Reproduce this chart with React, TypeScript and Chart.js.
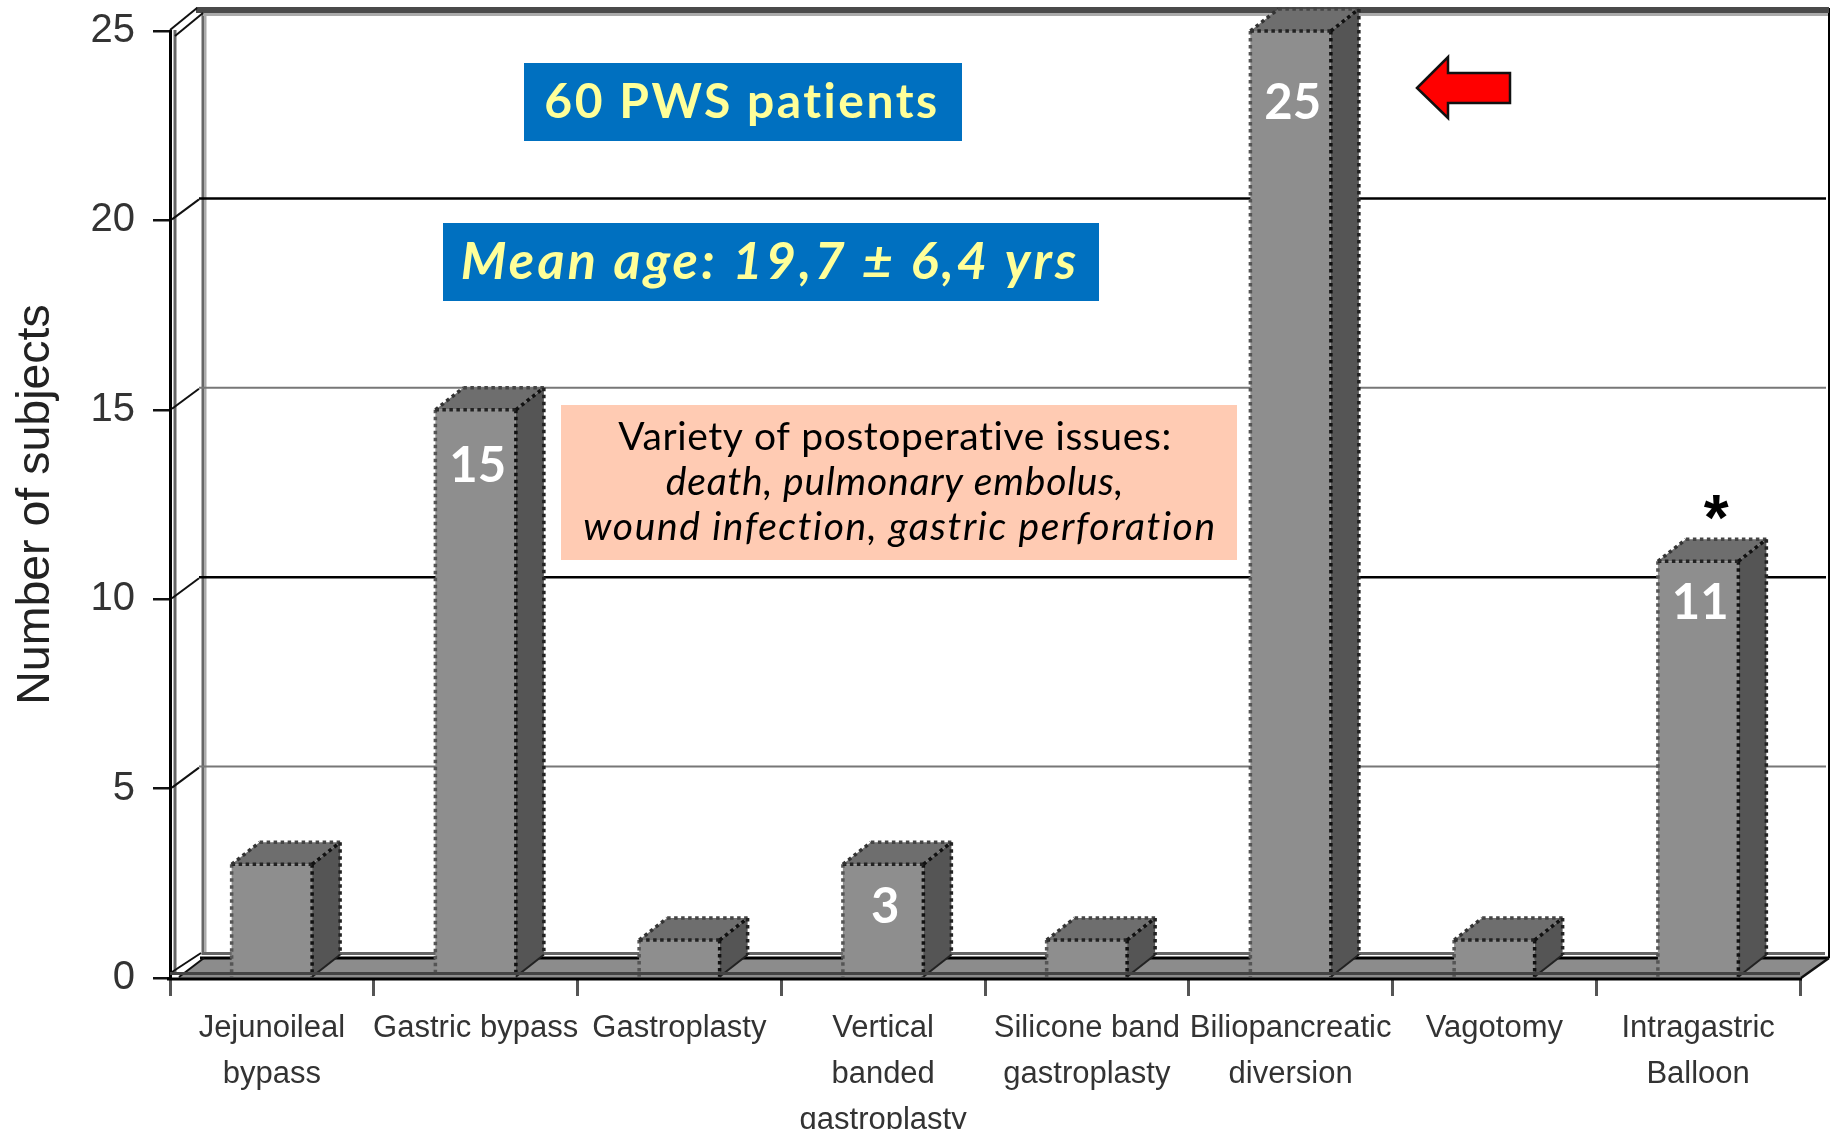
import React, { useEffect, useRef } from "react";
import { Chart, registerables } from "chart.js";

Chart.register(...registerables);

const categories = [
  ["Jejunoileal", "bypass"],
  "Gastric bypass",
  "Gastroplasty",
  ["Vertical", "banded", "gastroplasty"],
  ["Silicone band", "gastroplasty"],
  ["Biliopancreatic", "diversion"],
  "Vagotomy",
  ["Intragastric", "Balloon"],
];
const subjects = [3, 15, 1, 3, 1, 25, 1, 11];
const barLabels = ["", "15", "", "3", "", "25", "", "11"];
const barLabelLevels = [0, 13.5, 0, 1.88, 0, 23.1, 0, 9.9];
const yTitle = "Number of subjects";
const noteLines = ["Variety of postoperative issues:", "death, pulmonary embolus,", "wound infection, gastric perforation"];

const DX = 28;
const DY = -22;
const WALL_DX = 33;
const WALL_DY = -22;

const COMIC = '"Lato", "Open Sans", sans-serif';

function dotted(ctx: any, x1: number, y1: number, x2: number, y2: number, color: string, width = 3.5) {
  ctx.save();
  ctx.strokeStyle = color;
  ctx.lineWidth = width;
  ctx.setLineDash([3.5, 3.5]);
  ctx.beginPath();
  ctx.moveTo(x1, y1);
  ctx.lineTo(x2, y2);
  ctx.stroke();
  ctx.restore();
}
function line(ctx: any, x1: number, y1: number, x2: number, y2: number, color: string, width = 2) {
  ctx.strokeStyle = color;
  ctx.lineWidth = width;
  ctx.beginPath();
  ctx.moveTo(x1, y1);
  ctx.lineTo(x2, y2);
  ctx.stroke();
}
function poly(ctx: any, pts: number[][], fill: string) {
  ctx.fillStyle = fill;
  ctx.beginPath();
  pts.forEach((p, i) => (i ? ctx.lineTo(p[0], p[1]) : ctx.moveTo(p[0], p[1])));
  ctx.closePath();
  ctx.fill();
}
function label(ctx: any, font: string, color: string, text: string, cx: number, baseline: number, spacing: string) {
  ctx.save();
  ctx.font = font;
  ctx.fillStyle = color;
  ctx.textAlign = "center";
  ctx.textBaseline = "alphabetic";
  ctx.letterSpacing = spacing;
  ctx.fillText(text, cx, baseline);
  ctx.restore();
}

const scene = {
  id: "scene",
  beforeDatasetsDraw(chart: any) {
    const { ctx, chartArea: a, scales } = chart;
    const y = scales.y;
    const wallX = a.left + WALL_DX;
    const rightX = a.right + 29;
    ctx.save();
    // back wall edges
    line(ctx, wallX, 12, wallX, 955, "#666", 3);
    line(ctx, wallX + 2.5, 16, wallX + 2.5, 952, "#aaa", 2);
    line(ctx, a.left + 5, 30, a.left + 5, 975, "#666", 3);
    line(ctx, rightX, 8, rightX, 958, "#000", 2);
    // grid on the back wall
    [5, 10, 15, 20].forEach((v) => {
      const py = y.getPixelForValue(v);
      const strong = v % 10 === 0;
      line(ctx, a.left + 2, py - 1, wallX - 4, py + WALL_DY + 1, "#111", 2);
      line(ctx, wallX - 4, py + WALL_DY, rightX - 3, py + WALL_DY, strong ? "#000" : "#777", strong ? 2.5 : 2);
    });
    // top band
    const topY = y.getPixelForValue(25);
    ctx.fillStyle = "#4a4a4a";
    ctx.fillRect(a.left + 26, 7, rightX - a.left - 26, 6);
    ctx.fillStyle = "#aaa";
    ctx.fillRect(wallX, 13, rightX - wallX - 1, 3);
    line(ctx, a.left, topY - 1, a.left + 27, 8, "#111", 2);
    line(ctx, a.left + 5, topY + 5, a.left + 33, 13, "#111", 2);
    // floor
    ctx.fillStyle = "#666";
    ctx.fillRect(wallX, 952, rightX - wallX - 4, 3);
    poly(ctx, [[a.left + 8, 978], [a.right, 978], [rightX, 958], [wallX, 958]], "#8c8c8c");
    line(ctx, wallX - 3, 958, rightX, 958, "#000", 3);
    line(ctx, a.right + 1, 978, rightX, 958, "#111", 2.5);
    line(ctx, a.left + 2, 972, wallX - 2, 953, "#111", 2);
    line(ctx, a.left + 9, 977, wallX + 1, 958, "#111", 2);
    // depth faces of the bars
    chart.getDatasetMeta(0).data.forEach((bar: any) => {
      const l = bar.x - bar.width / 2;
      const r = bar.x + bar.width / 2;
      poly(ctx, [[l, bar.y], [r, bar.y], [r + DX, bar.y + DY], [l + DX, bar.y + DY]], "#6e6e6e");
      poly(ctx, [[r, bar.y], [r + DX, bar.y + DY], [r + DX, bar.base + DY], [r, bar.base]], "#555555");
    });
    ctx.restore();
  },
  afterDatasetsDraw(chart: any) {
    const { ctx, chartArea: a, scales } = chart;
    ctx.save();
    // bar outlines
    chart.getDatasetMeta(0).data.forEach((bar: any) => {
      const l = bar.x - bar.width / 2;
      const r = bar.x + bar.width / 2;
      dotted(ctx, l, bar.y, l, bar.base, "#555");
      dotted(ctx, r, bar.y, r, bar.base, "#111");
      dotted(ctx, l, bar.y, r, bar.y, "#222");
      dotted(ctx, r, bar.y, r + DX, bar.y + DY, "#111");
      dotted(ctx, l, bar.y, l + DX, bar.y + DY, "#333");
      dotted(ctx, l + DX, bar.y + DY, r + DX, bar.y + DY, "#444");
      dotted(ctx, r + DX, bar.y + DY, r + DX, bar.base + DY, "#222");
      line(ctx, r, bar.base, r + DX, bar.base + DY, "#222", 2);
    });
    // front floor edge and axis
    line(ctx, a.left, 973.5, a.right, 973.5, "#444", 3);
    line(ctx, a.left - 3, 979, a.right + 2, 979, "#000", 3);
    // bar value labels
    ctx.font = `bold 49px ${COMIC}`;
    ctx.fillStyle = "#fff";
    ctx.textAlign = "center";
    ctx.textBaseline = "middle";
    const meta = chart.getDatasetMeta(0).data;
    barLabels.forEach((t, i) => {
      if (t) ctx.fillText(t, meta[i].x + 2, scales.y.getPixelForValue(barLabelLevels[i]));
    });
    // asterisk over the last bar
    ctx.font = 'bold 64px "Liberation Sans"';
    ctx.fillStyle = "#000";
    ctx.textBaseline = "alphabetic";
    ctx.fillText("*", meta[7].x + 18, 540);
    // annotation boxes
    ctx.fillStyle = "#0070c0";
    ctx.fillRect(524, 63, 438, 78);
    label(ctx, `bold 48px ${COMIC}`, "#ffff99", "60 PWS patients", 742, 118, "2.5px");
    ctx.fillStyle = "#0070c0";
    ctx.fillRect(443, 223, 656, 78);
    label(ctx, `italic bold 52px ${COMIC}`, "#ffff99", "Mean age: 19,7 ± 6,4 yrs", 770, 279, "3.2px");
    ctx.fillStyle = "#ffcbb3";
    ctx.fillRect(561, 405, 676, 155);
    label(ctx, `39px ${COMIC}`, "#000", noteLines[0], 895, 450, "0.6px");
    label(ctx, `italic 39px ${COMIC}`, "#000", noteLines[1], 895, 495, "0.8px");
    label(ctx, `italic 39px ${COMIC}`, "#000", noteLines[2], 900, 540, "1.6px");
    // arrow
    ctx.fillStyle = "#ff0000";
    ctx.strokeStyle = "#111";
    ctx.lineWidth = 2.5;
    ctx.beginPath();
    [[1417, 88], [1448, 57], [1448, 73], [1510, 73], [1510, 103], [1448, 103], [1448, 118]].forEach((p, i) =>
      i ? ctx.lineTo(p[0], p[1]) : ctx.moveTo(p[0], p[1])
    );
    ctx.closePath();
    ctx.fill();
    ctx.stroke();
    ctx.restore();
  },
};

export default function App() {
  const ref = useRef<HTMLCanvasElement>(null);
  useEffect(() => {
    const chart = new Chart(ref.current!, {
      type: "bar",
      data: {
        labels: categories,
        datasets: [
          {
            data: subjects,
            backgroundColor: "#8e8e8e",
            borderWidth: 0,
            barPercentage: 0.395,
            categoryPercentage: 1,
          },
        ],
      },
      options: {
        responsive: false,
        animation: false,
        layout: { padding: { top: 31, right: 30, left: 0, bottom: 0 } },
        plugins: { legend: { display: false }, tooltip: { enabled: false } },
        scales: {
          x: {
            afterFit: (s: any) => {
              s.height = 151;
              s.paddingLeft = 0;
              s.paddingRight = 0;
            },
            border: { display: false },
            grid: { drawOnChartArea: false, drawTicks: true, tickLength: 18, color: "#555", lineWidth: 3, offset: true },
            ticks: {
              autoSkip: false,
              maxRotation: 0,
              minRotation: 0,
              padding: 10,
              color: "#333",
              font: { family: '"Liberation Sans"', size: 31, lineHeight: 1.48 },
            },
          },
          y: {
            min: 0,
            max: 25,
            afterFit: (s: any) => {
              s.width = 170;
              s.paddingTop = 0;
              s.paddingBottom = 0;
            },
            border: { display: true, color: "#000", width: 3 },
            grid: { drawOnChartArea: false, drawTicks: true, tickLength: 17, color: "#111", lineWidth: 2.5 },
            ticks: {
              stepSize: 5,
              padding: 18,
              color: "#333",
              font: { family: '"Liberation Sans"', size: 40 },
            },
            title: {
              display: true,
              text: yTitle,
              color: "#222",
              padding: { top: 8, bottom: 0 },
              font: { family: '"Liberation Sans"', size: 46.5 },
            },
          },
        },
      },
      plugins: [scene],
    } as any);
    return () => chart.destroy();
  }, []);
  return (
    <div style={{ position: "fixed", left: 0, top: 0, background: "#fff" }}>
      <canvas ref={ref} width={1830} height={1129} style={{ display: "block" }} />
    </div>
  );
}
